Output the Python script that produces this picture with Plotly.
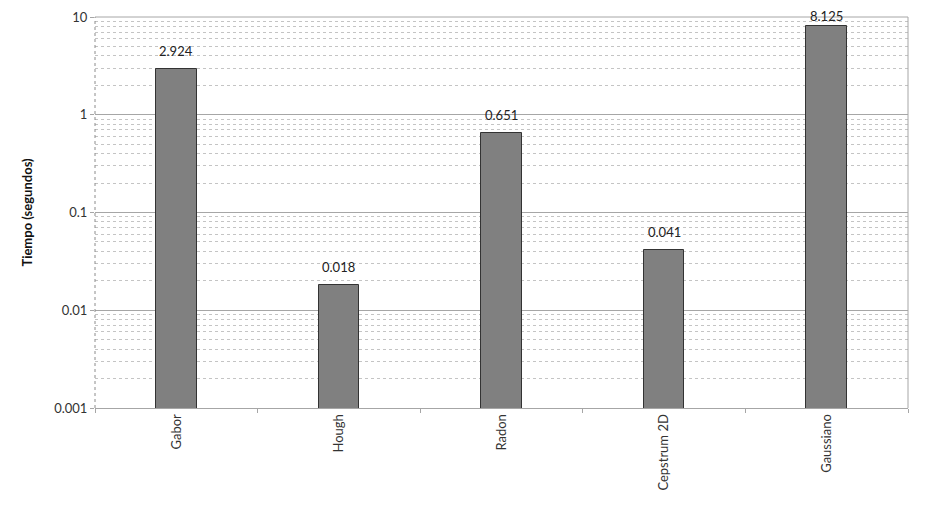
import math
import plotly.graph_objects as go

categories = ["Gabor", "Hough", "Radon", "Cepstrum 2D", "Gaussiano"]
times = [2.924, 0.018, 0.651, 0.041, 8.125]
labels = ["2.924", "0.018", "0.651", "0.041", "8.125"]
ytickvals = [0.001, 0.01, 0.1, 1, 10]
yticktext = ["0.001", "0.01", "0.1", "1", "10"]

FONT = "Lato, Open Sans, sans-serif"

fig = go.Figure(go.Bar(
    x=categories, y=times,
    marker=dict(color="#808080", line=dict(color="#333333", width=1)),
    width=0.25, cliponaxis=False,
))
for c, v, t in zip(categories, times, labels):
    # keep the topmost label inside the page (it sits on the frame in the reference)
    shift = 8 if v < 5 else 0
    fig.add_annotation(x=c, y=math.log10(v), text=t, showarrow=False, yanchor="bottom",
                       yshift=shift, font=dict(size=13, color="#222222", family=FONT))

# page body adds an 8px offset; compensate with size and margins
fig.update_layout(
    width=917, height=498,
    margin=dict(l=87, r=17, t=9, b=98, autoexpand=False),
    paper_bgcolor="white", plot_bgcolor="white",
    font=dict(family=FONT, size=13, color="#333333"),
    showlegend=False,
    bargap=0,
)
fig.update_yaxes(
    type="log", range=[-3, 1], automargin=False,
    tickmode="array", tickvals=ytickvals, ticktext=yticktext,
    tickfont=dict(size=13),
    showgrid=True, gridcolor="#a6a6a6", gridwidth=1,
    minor=dict(dtick="D1", showgrid=True, gridcolor="#c4c4c4", griddash="3px,3px", gridwidth=1),
    showline=False, ticks="outside", ticklen=4, tickcolor="#a6a6a6",
    title=dict(text="<b>Tiempo (segundos)</b>", font=dict(size=13, color="#111111"), standoff=18),
    zeroline=False,
)
fig.update_xaxes(
    showgrid=False, showline=True, linecolor="#a6a6a6", linewidth=1, automargin=False,
    ticks="outside", tickson="boundaries", ticklen=4, tickcolor="#a6a6a6",
    tickangle=-90, tickfont=dict(size=13), mirror=False,
)
fig.add_shape(type="line", xref="paper", yref="paper", x0=0, x1=1, y0=1, y1=1,
              line=dict(color="#a6a6a6", width=1))
fig.add_shape(type="line", xref="paper", yref="paper", x0=1, x1=1, y0=0, y1=1,
              line=dict(color="#a6a6a6", width=1))
fig.add_shape(type="line", xref="paper", yref="paper", x0=0, x1=0, y0=0, y1=1,
              line=dict(color="#8c8c8c", width=1, dash="dot"))

fig.write_html("out.html")
